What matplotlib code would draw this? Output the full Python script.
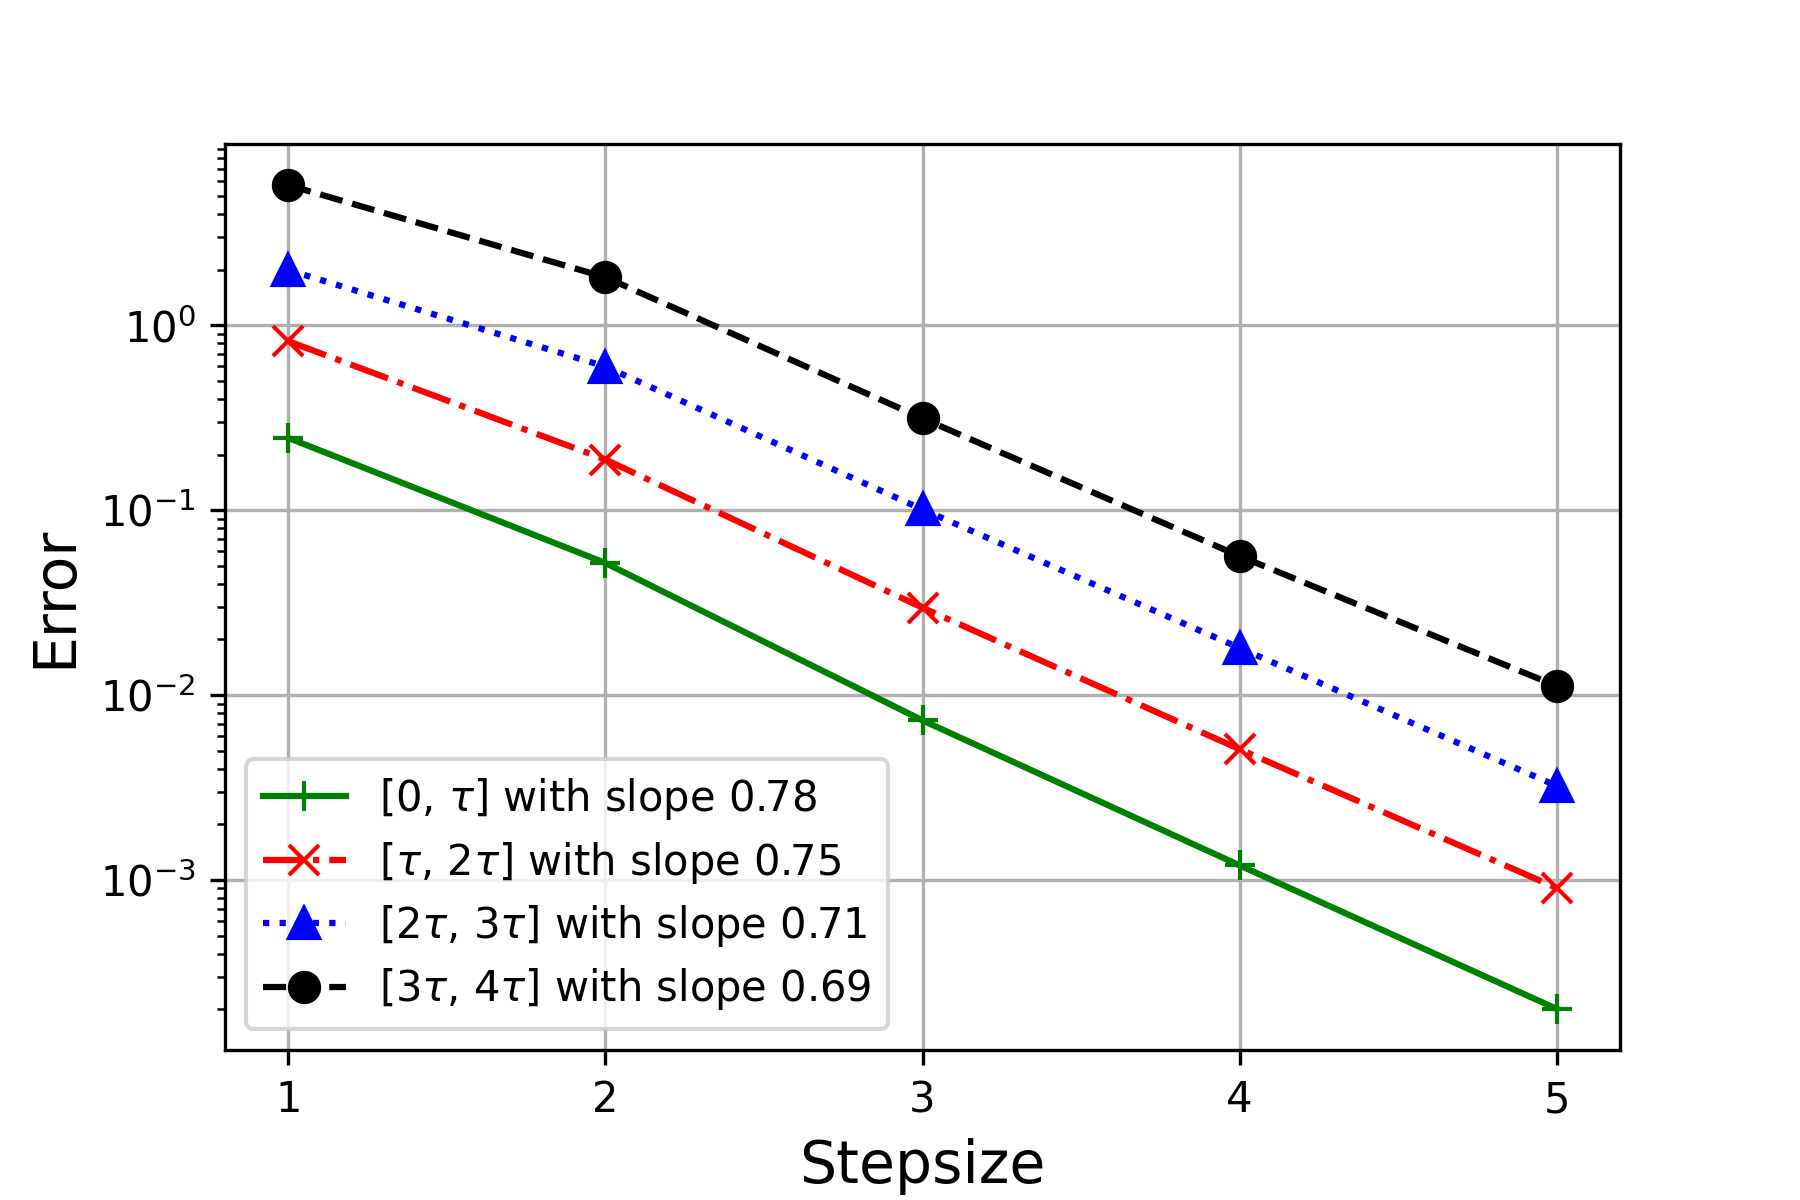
import matplotlib
matplotlib.use("Agg")
import matplotlib.pyplot as plt

stepsize = [1, 2, 3, 4, 5]
err_0_1 = [0.246, 0.0518, 0.0073, 0.00120, 0.000201]
err_1_2 = [0.82, 0.188, 0.0297, 0.0051, 0.000906]
err_2_3 = [1.99, 0.598, 0.101, 0.018, 0.00323]
err_3_4 = [5.73, 1.82, 0.314, 0.0565, 0.0112]
labels = [r"[0, $\tau$] with slope 0.78",
          r"[$\tau$, 2$\tau$] with slope 0.75",
          r"[2$\tau$, 3$\tau$] with slope 0.71",
          r"[3$\tau$, 4$\tau$] with slope 0.69"]

fig, ax = plt.subplots(figsize=(6, 4), dpi=300)
fig.subplots_adjust(left=0.125, right=0.9, top=0.88, bottom=0.125)

ax.plot(stepsize, err_0_1, color="green", linestyle="-", marker="+", lw=1.5, ms=7, label=labels[0])
ax.plot(stepsize, err_1_2, color="red", linestyle="-.", marker="x", lw=1.5, ms=7, label=labels[1])
ax.plot(stepsize, err_2_3, color="blue", linestyle=":", marker="^", lw=1.5, ms=7, label=labels[2])
ax.plot(stepsize, err_3_4, color="black", linestyle="--", marker="o", lw=1.5, ms=7, label=labels[3])

ax.set_yscale("log")
ax.set_xticks(stepsize)
ax.grid(True, which="major")
ax.set_xlabel("Stepsize", fontsize=14)
ax.set_ylabel("Error", fontsize=14)
ax.legend(loc="lower left", fontsize=10, labelspacing=0.42)

fig.savefig("out.png", dpi=300)
